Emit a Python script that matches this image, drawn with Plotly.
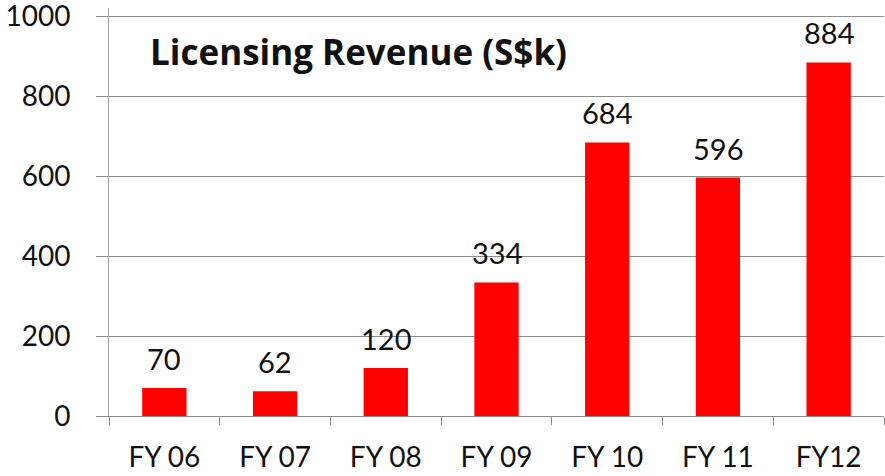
import plotly.graph_objects as go

categories = ["FY 06", "FY 07", "FY 08", "FY 09", "FY 10", "FY 11", "FY12"]
revenue = [70, 62, 120, 334, 684, 596, 884]
y_ticks = [0, 200, 400, 600, 800, 1000]
y_tick_text = ["0", "200", "400", "600", "800", "1000"]
title_text = "Licensing Revenue (S$k)"

FONT = "Lato"

fig = go.Figure()
fig.add_trace(go.Bar(
    x=categories, y=revenue,
    marker=dict(color="#FF0000", line=dict(width=0)),
    hoverinfo="x+y",
))

for c, v in zip(categories, revenue):
    fig.add_annotation(x=c, y=v, text=str(v), showarrow=False,
                       yanchor="bottom", yshift=10,
                       font=dict(family=FONT, size=29, color="#111111"))

fig.add_annotation(xref="paper", yref="y", x=0.05, y=912, text="<b>" + title_text + "</b>",
                   showarrow=False, xanchor="left", yanchor="middle",
                   font=dict(family="Open Sans", size=35, color="#111111"))

fig.update_layout(
    width=885, height=476,
    margin=dict(l=109, r=1, t=8, b=60, autoexpand=False),
    paper_bgcolor="white", plot_bgcolor="white",
    bargap=0.6,
    showlegend=False,
    font=dict(family=FONT, size=28, color="#111111"),
)
fig.update_yaxes(
    range=[0, 1020], tickvals=y_ticks, ticktext=y_tick_text, automargin=False,
    showgrid=True, gridcolor="#8c8c8c", gridwidth=1,
    zeroline=False,
    showline=True, linecolor="#a6a6a6", linewidth=1,
    ticks="outside", ticklen=12, tickcolor="#8c8c8c",
    ticklabelstandoff=20, ticklabeloverflow="allow",
    tickfont=dict(family=FONT, size=28, color="#111111"),
)
fig.update_xaxes(
    automargin=False,
    showline=True, linecolor="#8c8c8c", linewidth=1,
    ticks="outside", tickson="boundaries", ticklen=8, tickcolor="#8c8c8c",
    ticklabelstandoff=16,
    tickfont=dict(family=FONT, size=28, color="#111111"),
)

fig.write_html("out.html", config={"displayModeBar": False},
               post_script="document.body.style.margin='0';document.body.style.padding='0';")
